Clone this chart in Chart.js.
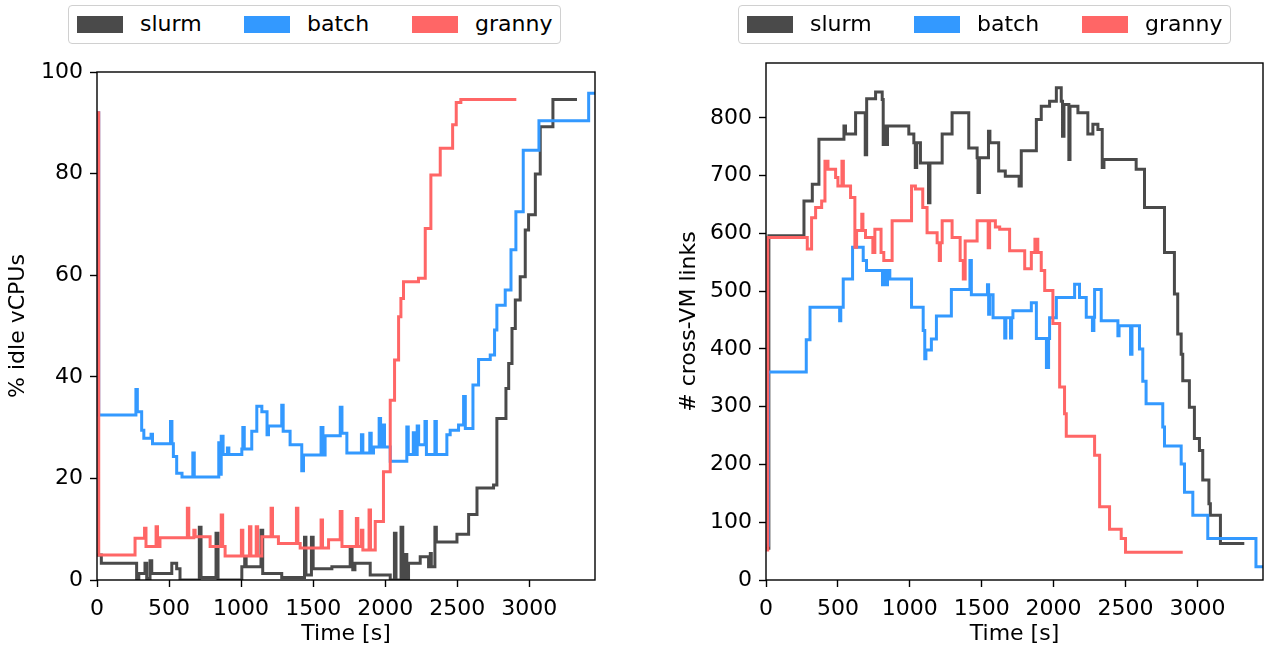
<!DOCTYPE html>
<html lang="en">
<head>
<meta charset="UTF-8">
<title>idle vCPUs and cross-VM links</title>
<script src="https://cdn.jsdelivr.net/npm/chart.js@4.4.1/dist/chart.umd.min.js"></script>
<style>
    body { margin: 0; background: #fff; font-family: "DejaVu Sans", sans-serif; }
    .wrap { position: relative; width: 1264px; height: 651px; overflow: hidden; }
    canvas { position: absolute; top: 0; }
    #idleChart { left: 0; }
    #linksChart { left: 640px; }
    .legend {
        position: absolute; top: 5px; width: 491px; height: 37px;
        border: 1.5px solid #d0d0d0; border-radius: 4px; background: #fff;
    }
    .legend span { position: absolute; }
    .legend .sw { top: 10px; width: 46px; height: 17px; }
    .legend .lb { top: 4px; font-size: 22px; line-height: 28px; color: #000; }
</style>
</head>
<body>
<div class="wrap">
    <canvas id="idleChart" width="620" height="651"></canvas>
    <canvas id="linksChart" width="624" height="651"></canvas>
    <div class="legend" id="legendLeft" style="left:68px"></div>
    <div class="legend" id="legendRight" style="left:738px"></div>
</div>

<script>
// series names + colours
const seriesNames = ['slurm', 'batch', 'granny'];
const seriesColors = ['#4a4a4a', '#3399ff', '#ff6666'];

// axis ticks
const timeTicks = [0, 500, 1000, 1500, 2000, 2500, 3000];
const idleTicks = [0, 20, 40, 60, 80, 100];
const linksTicks = [0, 100, 200, 300, 400, 500, 600, 700, 800];

// left panel: % idle vCPUs (step series, time in s)
const idleSlurmT = [0, 30, 275, 290, 333, 345, 368, 380, 519, 553, 576, 710, 722, 826, 840, 1005, 1025, 1035, 1138, 1150, 1282, 1440, 1450, 1488, 1500, 1630, 1757, 1770, 1775, 1790, 1896, 2035, 2064, 2075, 2110, 2122, 2140, 2150, 2162, 2243, 2301, 2313, 2320, 2345, 2355, 2498, 2579, 2637, 2752, 2775, 2838, 2857, 2880, 2903, 2937, 2972, 2995, 3042, 3076, 3164, 3331];
const idleSlurmV = [4.9, 3.3, 0, 1.3, 3.3, 0.3, 3.8, 1.3, 3.3, 2.2, 0, 10.4, 0.5, 9.2, 0, 2.6, 4.6, 2.6, 9.8, 1.3, 0.5, 8.4, 1.0, 8.4, 2.2, 2.6, 6.2, 3.3, 2.0, 3.3, 1.0, 0, 9.2, 0, 10.4, 0, 5.0, 0, 3.3, 4.6, 2.6, 5.2, 2.6, 10.4, 7.5, 9.0, 12.9, 18.1, 18.7, 31.8, 37.7, 42.6, 49.5, 55.1, 59.7, 68.9, 71.9, 79.9, 89.2, 94.6, 94.6];

const idleBatchT = [0, 12, 270, 280, 310, 325, 375, 385, 510, 520, 530, 553, 590, 665, 675, 845, 855, 862, 875, 905, 915, 1005, 1012, 1022, 1074, 1109, 1144, 1180, 1190, 1282, 1292, 1340, 1421, 1433, 1555, 1568, 1583, 1688, 1700, 1734, 1835, 1845, 1893, 1903, 1919, 1958, 1968, 1985, 1995, 2035, 2150, 2160, 2195, 2205, 2222, 2232, 2276, 2286, 2345, 2355, 2428, 2451, 2509, 2544, 2556, 2609, 2648, 2729, 2759, 2775, 2833, 2873, 2907, 2958, 3067, 3412, 3456];
const idleBatchV = [92, 32.5, 37.5, 33.1, 29.5, 27.9, 28.7, 26.8, 31.2, 26.8, 24.3, 21.0, 20.3, 25.0, 20.3, 27.0, 20.8, 28.3, 24.7, 26.0, 24.7, 25.8, 30.0, 25.8, 29.3, 34.2, 33.1, 28.6, 30.3, 34.4, 29.3, 26.6, 21.5, 24.6, 30.0, 24.6, 28.4, 34.0, 28.9, 25.0, 28.6, 25.0, 28.9, 25.0, 26.2, 31.8, 26.2, 30.5, 26.2, 23.4, 30.1, 24.7, 29.0, 24.7, 30.3, 26.6, 31.2, 24.7, 31.2, 24.7, 28.6, 29.5, 30.5, 36.1, 29.8, 38.4, 43.4, 44.3, 49.2, 54.1, 57.1, 65.0, 72.5, 84.6, 90.4, 95.8, 95.8];

const idleGrannyT = [0, 12, 264, 330, 340, 410, 420, 437, 627, 637, 672, 681, 785, 862, 872, 889, 1002, 1012, 1058, 1068, 1105, 1115, 1144, 1208, 1218, 1259, 1384, 1394, 1410, 1555, 1565, 1607, 1688, 1700, 1800, 1810, 1835, 1845, 1888, 1898, 1931, 1988, 2035, 2065, 2093, 2109, 2127, 2231, 2278, 2317, 2382, 2468, 2493, 2525, 2910];
const idleGrannyV = [92, 4.9, 8.2, 10.2, 6.6, 10.5, 6.6, 8.3, 14.1, 8.3, 9.8, 8.5, 6.6, 12.8, 6.6, 4.7, 9.8, 4.7, 10.5, 4.7, 10.5, 4.7, 8.5, 14.1, 8.5, 7.2, 14.1, 7.2, 6.3, 11.8, 6.3, 7.9, 13.5, 6.6, 12.1, 6.6, 9.8, 5.9, 13.8, 5.9, 11.5, 21.3, 35.4, 43.3, 51.8, 55.4, 58.7, 59.4, 69.2, 79.7, 85.0, 89.6, 94.0, 94.6, 94.6];

// right panel: # cross-VM links
const linksSlurmT = [0, 20, 264, 322, 368, 542, 553, 623, 690, 700, 762, 808, 815, 825, 835, 845, 993, 1028, 1038, 1048, 1074, 1130, 1140, 1225, 1294, 1410, 1468, 1474, 1484, 1547, 1557, 1618, 1664, 1760, 1775, 1880, 1914, 1972, 2019, 2053, 2062, 2072, 2106, 2114, 2169, 2238, 2273, 2308, 2338, 2350, 2574, 2632, 2771, 2840, 2863, 2887, 2898, 2944, 2979, 3014, 3037, 3080, 3090, 3160, 3326];
const linksSlurmV = [55, 596, 656, 685, 763, 786, 772, 809, 736, 833, 845, 832, 754, 786, 754, 786, 772, 757, 714, 757, 722, 653, 722, 772, 809, 748, 731, 671, 731, 777, 757, 708, 699, 682, 743, 797, 820, 829, 852, 829, 768, 823, 728, 820, 809, 772, 789, 780, 714, 728, 711, 645, 567, 495, 426, 391, 345, 299, 245, 224, 173, 132, 112, 63, 63];

const linksBatchT = [0, 15, 280, 306, 512, 520, 537, 602, 676, 699, 810, 820, 835, 845, 861, 1012, 1093, 1104, 1112, 1150, 1185, 1289, 1418, 1428, 1540, 1548, 1556, 1579, 1660, 1668, 1700, 1708, 1717, 1845, 1880, 1950, 1965, 1972, 2019, 2146, 2180, 2227, 2270, 2280, 2285, 2331, 2447, 2455, 2535, 2545, 2597, 2620, 2643, 2759, 2771, 2887, 2910, 2968, 3072, 3407, 3456];
const linksBatchV = [60, 360, 416, 472, 449, 472, 521, 576, 553, 536, 511, 536, 511, 536, 521, 472, 432, 383, 398, 417, 457, 503, 553, 494, 511, 460, 494, 454, 419, 454, 419, 454, 466, 480, 418, 368, 418, 454, 489, 512, 489, 455, 432, 455, 503, 449, 423, 440, 391, 440, 400, 344, 305, 265, 232, 201, 152, 112, 72, 23, 23];

const linksGrannyT = [0, 12, 287, 317, 345, 387, 410, 431, 484, 500, 528, 538, 588, 618, 630, 666, 674, 692, 743, 757, 800, 819, 877, 1012, 1039, 1090, 1120, 1190, 1205, 1213, 1225, 1294, 1350, 1372, 1385, 1468, 1545, 1555, 1595, 1625, 1694, 1799, 1845, 1870, 1890, 1914, 1938, 1995, 2042, 2076, 2088, 2285, 2320, 2389, 2470, 2500, 2898];
const linksGrannyV = [52, 593, 573, 627, 645, 656, 725, 711, 697, 682, 725, 682, 662, 576, 605, 633, 605, 593, 567, 607, 567, 553, 622, 682, 677, 645, 601, 584, 553, 584, 622, 593, 553, 521, 587, 622, 575, 622, 611, 607, 570, 539, 567, 590, 567, 536, 501, 444, 334, 288, 249, 216, 127, 88, 72, 48, 48];

function pts(ts, vs) {
    return ts.map((t, i) => ({ x: t, y: vs[i] }));
}

function makeSets(series) {
    return series.map((s, i) => ({
        label: seriesNames[i],
        data: pts(s[0], s[1]),
        borderColor: seriesColors[i],
        backgroundColor: seriesColors[i],
        borderWidth: 3,
        pointRadius: 0,
        stepped: true,
        fill: false,
        order: 2 - i
    }));
}

// box round the plot area like matplotlib
const framePlugin = {
    id: 'frame',
    afterDatasetsDraw(chart) {
        const { ctx, chartArea: a } = chart;
        ctx.save();
        ctx.strokeStyle = '#000';
        ctx.lineWidth = 1.4;
        ctx.strokeRect(a.left, a.top, a.right - a.left, a.bottom - a.top);
        ctx.restore();
    }
};

const font = { family: '"DejaVu Sans", sans-serif', size: 22 };

function makeChart(id, series, yMax, yTicks, yTitle, yWidth, titlePad, pad) {
    return new Chart(document.getElementById(id), {
        type: 'line',
        data: { datasets: makeSets(series) },
        options: {
            responsive: false,
            animation: false,
            layout: { padding: pad },
            plugins: { legend: { display: false }, tooltip: { enabled: false } },
            scales: {
                x: {
                    type: 'linear', min: 0, max: 3456,
                    afterBuildTicks: s => { s.ticks = timeTicks.map(v => ({ value: v })); },
                    afterFit: s => { s.height = 71; },
                    ticks: { font: font, color: '#000', padding: 9, maxRotation: 0, callback: v => String(v) },
                    grid: { drawOnChartArea: false, drawTicks: true, tickLength: 7, tickWidth: 1.4, tickColor: '#000', color: '#000' },
                    border: { display: false },
                    title: { display: true, text: 'Time [s]', font: font, color: '#000', padding: { bottom: 4 } }
                },
                y: {
                    min: 0, max: yMax,
                    afterBuildTicks: s => { s.ticks = yTicks.map(v => ({ value: v })); },
                    afterFit: s => { s.width = yWidth; },
                    ticks: { font: font, color: '#000', padding: 7, callback: v => String(v) },
                    grid: { drawOnChartArea: false, drawTicks: true, tickLength: 7, tickWidth: 1.4, tickColor: '#000', color: '#000' },
                    border: { display: false },
                    title: { display: true, text: yTitle, font: font, color: '#000', padding: { top: titlePad } }
                }
            }
        },
        plugins: [framePlugin]
    });
}

makeChart('idleChart',
    [[idleSlurmT, idleSlurmV], [idleBatchT, idleBatchV], [idleGrannyT, idleGrannyV]],
    100, idleTicks, '% idle vCPUs', 97, 5, { top: 72, right: 25, left: 0, bottom: 0 });

makeChart('linksChart',
    [[linksSlurmT, linksSlurmV], [linksBatchT, linksBatchV], [linksGrannyT, linksGrannyV]],
    895, linksTicks, '# cross-VM links', 126, 36, { top: 63, right: 1, left: 0, bottom: 0 });

// html legend boxes
function buildLegend(id) {
    const el = document.getElementById(id);
    const swX = [8, 175, 343];
    const lbX = [71, 238, 406];
    seriesNames.forEach((n, i) => {
        const sw = document.createElement('span');
        sw.className = 'sw';
        sw.style.left = swX[i] + 'px';
        sw.style.background = seriesColors[i];
        el.appendChild(sw);
        const lb = document.createElement('span');
        lb.className = 'lb';
        lb.style.left = lbX[i] + 'px';
        lb.textContent = n;
        el.appendChild(lb);
    });
}
buildLegend('legendLeft');
buildLegend('legendRight');
</script>
</body>
</html>
